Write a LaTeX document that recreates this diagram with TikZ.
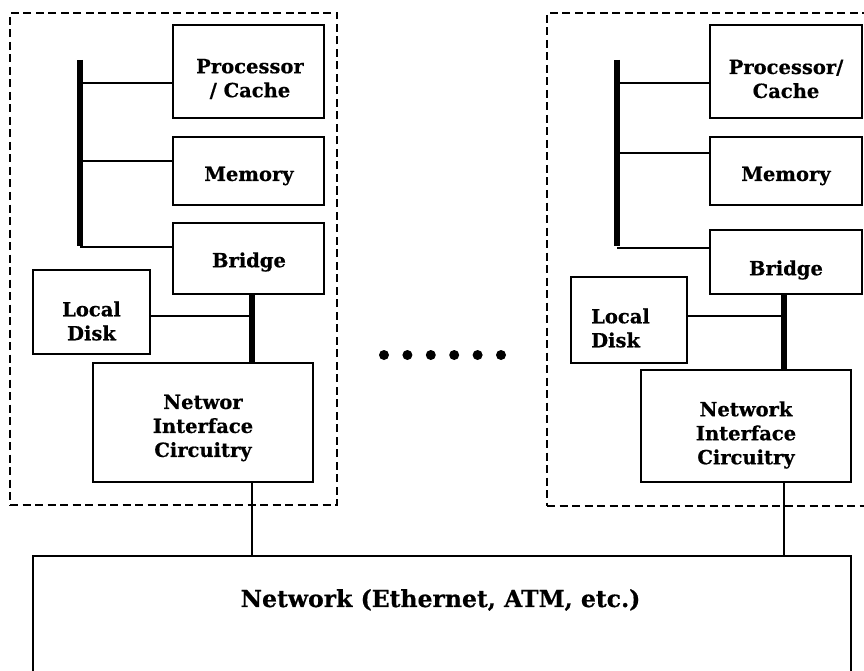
\documentclass[tikz,border=0pt]{standalone}
\usepackage{fontspec}
\setmainfont{DejaVu Serif}[BoldFeatures={FakeBold=0.6}]
\usetikzlibrary{calc}
\begin{document}
\begin{tikzpicture}[x=1pt,y=-1pt,
  box/.style={draw,line width=1.8pt,rectangle,inner sep=0pt},
  lbl/.style={font=\fontsize{19.5}{24}\selectfont\bfseries,align=center,inner sep=0pt},
  wire/.style={line width=1.3pt},
  bus/.style={line width=5.5pt},
  group/.style={draw,line width=1.6pt,dash pattern=on 8pt off 4.5pt},
  dot/.style={circle,fill,inner sep=0pt,minimum size=10pt}]
\useasboundingbox (0,0) rectangle (864,671);
\clip (0,0) rectangle (864,671);

% ---------- left workstation ----------
\node[group,minimum width=327,minimum height=492] (ws1) at (173.5,259) {};
\node[box,minimum width=151,minimum height=93] (pc1) at (248.5,71.5) {};
\node[lbl] at (250,79) {Processor\\/ Cache};
\node[box,minimum width=151,minimum height=68] (mem1) at (248.5,171) {};
\node[lbl] at (249,176) {Memory};
\node[box,minimum width=151,minimum height=71] (br1) at (248.5,258.5) {};
\node[lbl] at (249,262) {Bridge};
\node[box,minimum width=117,minimum height=84] (ld1) at (91.5,312) {};
\node[lbl] at (91.5,321) {Local\\Disk};
\node[box,minimum width=220,minimum height=119] (nic1) at (203,422.5) {};
\node[lbl] at (203,428) {Networ\\Interface\\Circuitry};

\coordinate (b1top) at (80,60);
\coordinate (b1bot) at (80,246);
\coordinate (t1) at (252,294);
\draw[bus] (b1top) -- (b1bot);
\draw[wire] (80,83) -- (80,83 -| pc1.west);
\draw[wire] (80,161) -- (80,161 -| mem1.west);
\draw[wire] (80,247) -- (80,247 -| br1.west);
\draw[bus] (t1 |- br1.south) -- (t1 |- nic1.north);
\draw[wire] (ld1.east |- 0,316) -- (249,316);

% ---------- right workstation ----------
\node[group,minimum width=340,minimum height=493] (ws2) at (717,259.5) {};
\node[box,minimum width=152,minimum height=93] (pc2) at (786,71.5) {};
\node[lbl] at (786,79) {Processor/\\Cache};
\node[box,minimum width=152,minimum height=68] (mem2) at (786,171) {};
\node[lbl] at (786,176) {Memory};
\node[box,minimum width=152,minimum height=64] (br2) at (786,262) {};
\node[lbl] at (786,270) {Bridge};
\node[box,minimum width=116,minimum height=86] (ld2) at (629,320) {};
\node[lbl,align=left,anchor=west] at (591,328) {Local\\Disk};
\node[box,minimum width=210,minimum height=112] (nic2) at (746,426) {};
\node[lbl] at (746,435) {Network\\Interface\\Circuitry};

\coordinate (b2top) at (617,60);
\coordinate (b2bot) at (617,246);
\coordinate (t2) at (784,294);
\draw[bus] (b2top) -- (b2bot);
\draw[wire] (617,83) -- (617,83 -| pc2.west);
\draw[wire] (617,153) -- (617,153 -| mem2.west);
\draw[wire] (617,248) -- (617,248 -| br2.west);
\draw[bus] (t2 |- br2.south) -- (t2 |- nic2.north);
\draw[wire] (ld2.east |- 0,316) -- (t2 |- 0,316);

% ---------- ellipsis between workstations ----------
\foreach \i [count=\k] in {384,407.4,430.8,454.2,477.6,501}
  \node[dot] (d\k) at (\i,355) {};

% ---------- shared network ----------
\node[box,minimum width=818,minimum height=160] (net) at (442,636) {};
\node[font=\fontsize{23.5}{28}\selectfont\bfseries,inner sep=0pt] at (440.5,600) {Network (Ethernet, ATM, etc.)};
\draw[wire] (t1 |- nic1.south) -- (t1 |- net.north);
\draw[wire] (t2 |- nic2.south) -- (t2 |- net.north);
\end{tikzpicture}
\end{document}
